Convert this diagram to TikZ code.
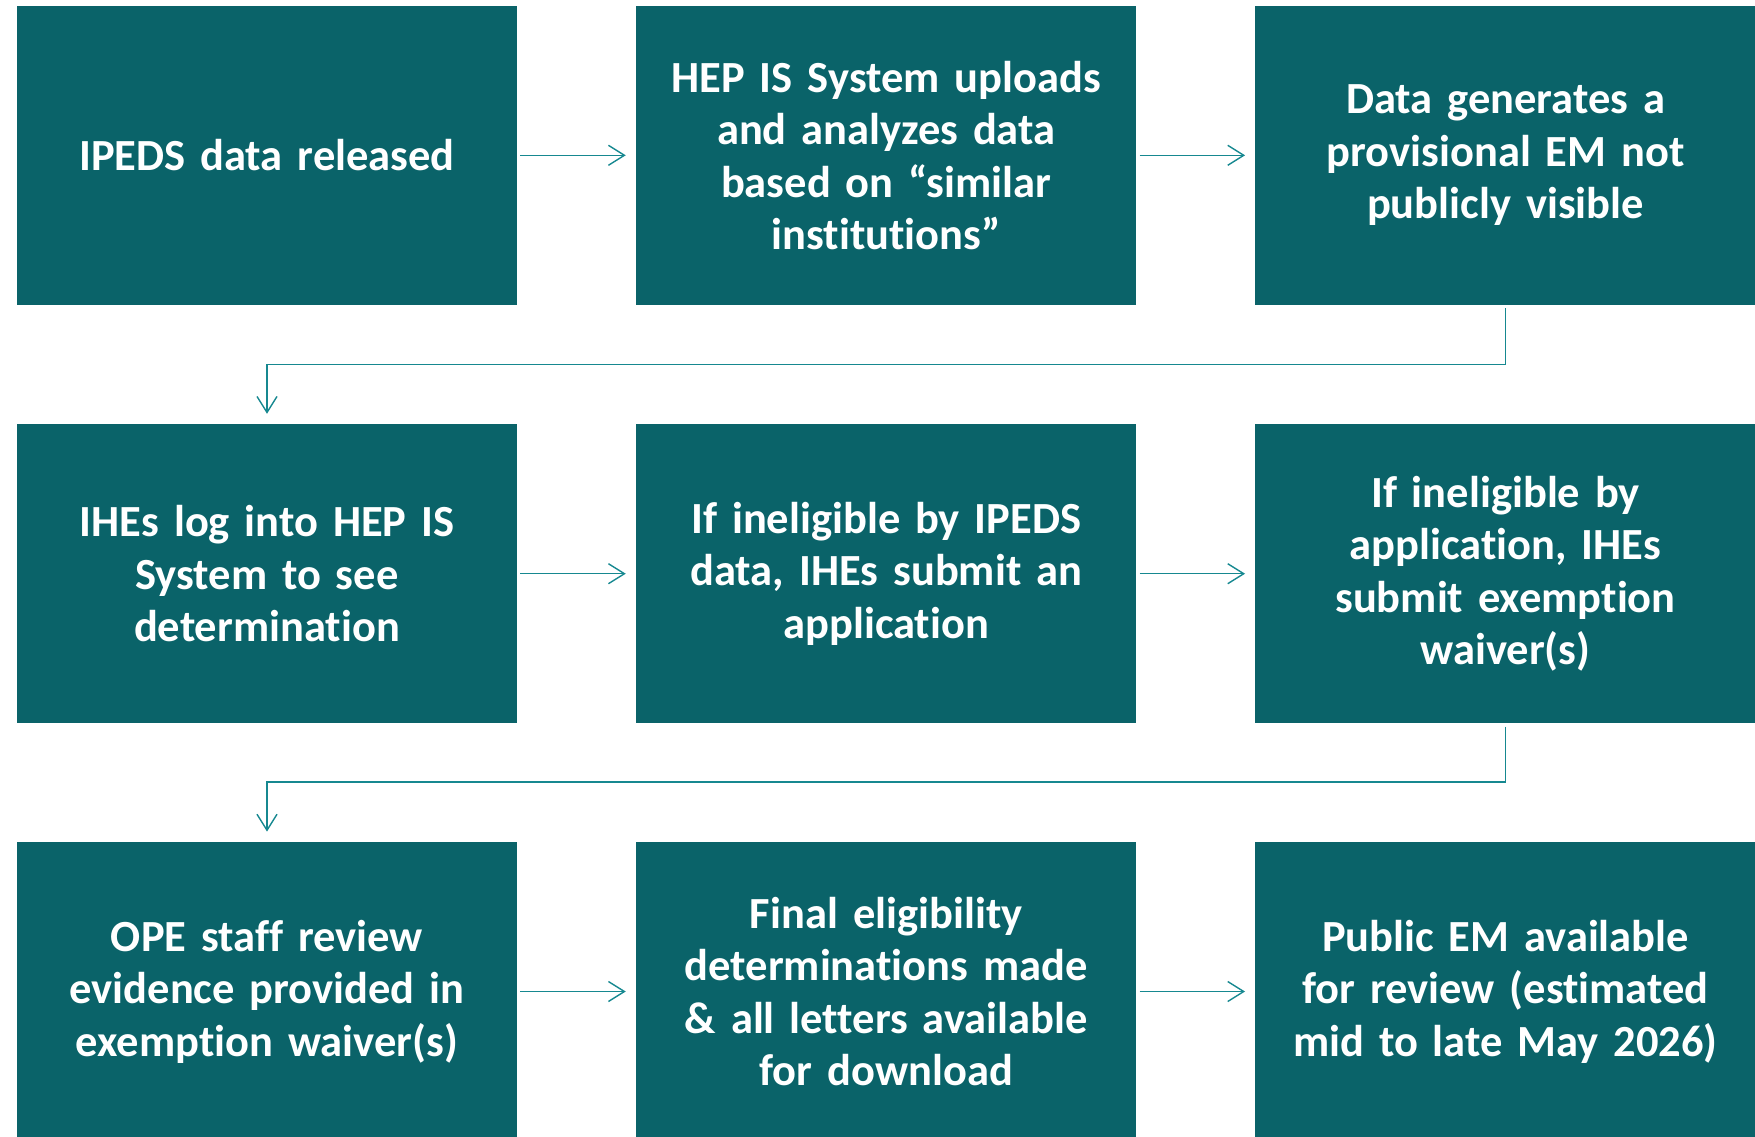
\documentclass[tikz,border=0pt]{standalone}
\usepackage{fontspec}
\setmainfont{Carlito}[Ligatures={NoCommon}, WordSpace=0.85]
\usetikzlibrary{arrows.meta,calc}
\definecolor{boxteal}{RGB}{10,99,105}
\definecolor{lineteal}{RGB}{22,136,144}
\tikzset{
  stepbox/.style={rectangle, fill=boxteal, draw=none, minimum width=500.5pt, minimum height=299.5pt,
    text width=480pt, align=center, text=white, inner sep=0pt,
    font=\fontsize{44.5}{52.5}\selectfont\bfseries},
  conn/.style={draw=lineteal, line width=1.4pt, -{Straight Barb[length=16pt,width=20pt,line width=1.4pt]},
    shorten <=3pt, shorten >=10pt},
}
\begin{document}
\begin{tikzpicture}[x=1pt,y=-1pt]
\useasboundingbox (0,0) rectangle (1755,1136);
\node[stepbox] (a) at (267,155.3) {IPEDS data released};
\node[stepbox] (b) at (886.2,155.3) {HEP IS System uploads\\and analyzes data\\based on “similar\\institutions”};
\node[stepbox] (c) at (1505.5,155.3) {Data generates a\\provisional EM not\\publicly visible};
\node[stepbox] (d) at (267,573.7) {IHEs log into HEP IS\\System to see\\determination};
\node[stepbox] (e) at (886.2,573.7) {If ineligible by IPEDS\\data, IHEs submit an\\application};
\node[stepbox] (f) at (1505.5,573.7) {If ineligible by\\application, IHEs\\submit exemption\\waiver(s)};
\node[stepbox] (g) at (267,991.5) {OPE staff review\\evidence provided in\\exemption waiver(s)};
\node[stepbox] (h) at (886.2,991.5) {Final eligibility\\determinations made\\\& all letters available\\for download};
\node[stepbox] (i) at (1505.5,991.5) {Public EM available\\for review (estimated\\mid to late May 2026)};
\coordinate (m1) at (267,364.3);
\coordinate (m2) at (267,782);
\draw[conn] (a) -- (b);
\draw[conn] (b) -- (c);
\draw[conn] (d) -- (e);
\draw[conn] (e) -- (f);
\draw[conn] (g) -- (h);
\draw[conn] (h) -- (i);
\draw[conn] (c.south) |- (m1) -| (d.north);
\draw[conn] (f.south) |- (m2) -| (g.north);
\end{tikzpicture}
\end{document}
